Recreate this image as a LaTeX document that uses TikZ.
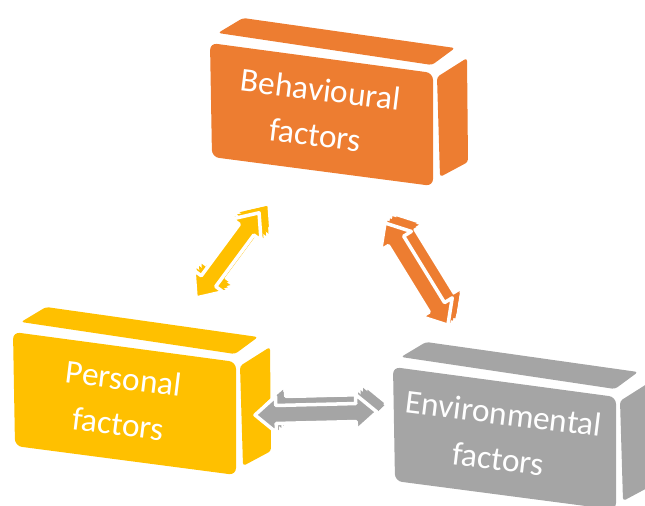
\documentclass[tikz,border=0pt]{standalone}
\usepackage{fontspec}
\setmainfont{Carlito}
\usetikzlibrary{calc}

\definecolor{behav}{HTML}{ED7D31}
\definecolor{pers}{HTML}{FFC000}
\definecolor{envir}{HTML}{A5A5A5}

\tikzset{
  boxtext/.style={text=white, align=center, rotate=-7,
    font=\fontsize{19}{26}\selectfont},
}

% block with front, top and right face; front top-left corner at the origin
\newcommand\factorbox[1]{%
  \fill[#1, rounded corners=1.4mm] (0,0) -- (223,30) -- (223,143) -- (2,114) -- cycle;
  \fill[#1, rounded corners=0.6mm] (8,-10) -- (33,-25) -- (245,5) -- (222,22) -- cycle;
  \fill[#1, rounded corners=0.6mm] (227,34) -- (257,15) -- (258,119) -- (230,134) -- cycle;
}

% double arrow with some depth: colour, tail coordinate, angle, length
\newcommand\fatarrow[4]{%
  \foreach \t/\edge in {1/white,0.75/none,0.5/none,0.25/none,0/white}
    \filldraw[fill=#1, draw=\edge, line width=2pt, line join=round,
      shift={($(#2)+\t*(10,-9)$)}, rotate=#3]
      (0,0) -- (21,18) -- (21,9) -- (#4-21,9) -- (#4-21,18) -- (#4,0)
      -- (#4-21,-18) -- (#4-21,-9) -- (21,-9) -- (21,-18) -- cycle;
}

\begin{document}
\begin{tikzpicture}[x=0.02cm, y=-0.02cm]
  \useasboundingbox (0,0) rectangle (645,506);
  \clip (0,0) rectangle (645,506);

  \begin{scope}[shift={(210,43)}]
    \factorbox{behav}
    \node[boxtext] (behaviour) at (108,69) {Behavioural\\factors};
  \end{scope}
  \begin{scope}[shift={(13,332)}]
    \factorbox{pers}
    \node[boxtext] (personal) at (108,69) {Personal\\factors};
  \end{scope}
  \begin{scope}[shift={(393,367)}]
    \factorbox{envir}
    \node[boxtext] (environment) at (108,69) {Environmental\\factors};
  \end{scope}

  % arrows between the blocks
  \coordinate (pb) at (196,298);
  \coordinate (be) at (385,223);
  \coordinate (pe) at (255,415);
  \fatarrow{pers}{pb}{53.5}{106}
  \fatarrow{behav}{be}{-58.4}{120}
  \fatarrow{envir}{pe}{1.4}{122}
\end{tikzpicture}
\end{document}
